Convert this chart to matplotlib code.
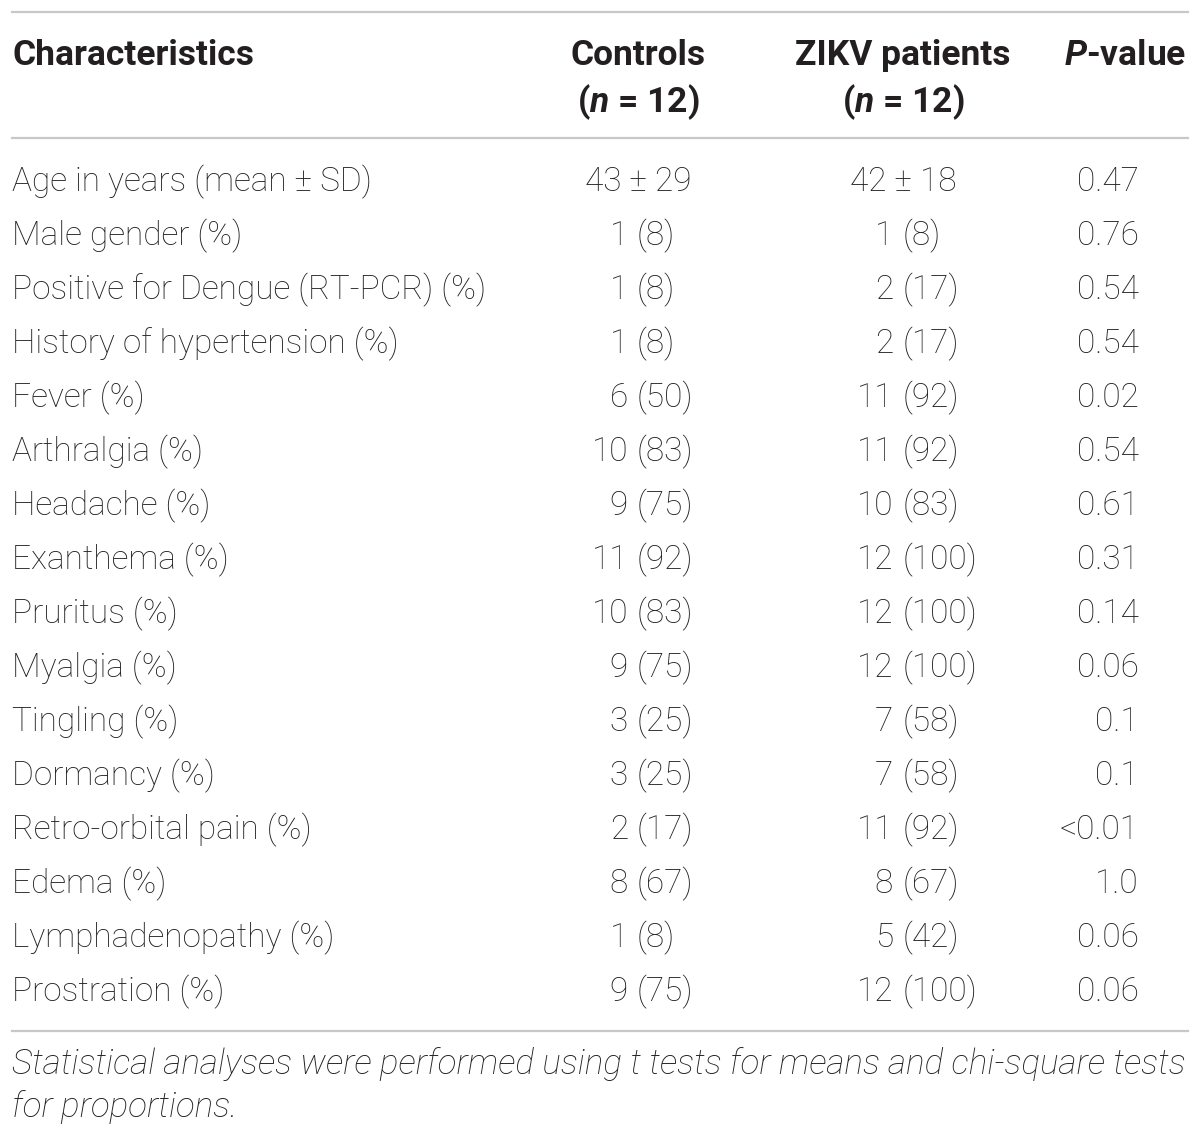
import matplotlib.pyplot as plt

# ---- TABLE DATA ----
characteristics = [
    "Age in years (mean \u00b1 SD)", "Male gender (%)",
    "Positive for Dengue (RT-PCR) (%)", "History of hypertension (%)",
    "Fever (%)", "Arthralgia (%)", "Headache (%)", "Exanthema (%)",
    "Pruritus (%)", "Myalgia (%)", "Tingling (%)", "Dormancy (%)",
    "Retro-orbital pain (%)", "Edema (%)", "Lymphadenopathy (%)",
    "Prostration (%)",
]
controls = ["43 \u00b1 29", "1 (8)", "1 (8)", "1 (8)", "6 (50)", "10 (83)",
            "9 (75)", "11 (92)", "10 (83)", "9 (75)", "3 (25)", "3 (25)",
            "2 (17)", "8 (67)", "1 (8)", "9 (75)"]
zikv = ["42 \u00b1 18", "1 (8)", "2 (17)", "2 (17)", "11 (92)", "11 (92)",
        "10 (83)", "12 (100)", "12 (100)", "12 (100)", "7 (58)", "7 (58)",
        "11 (92)", "8 (67)", "5 (42)", "12 (100)"]
p_values = ["0.47", "0.76", "0.54", "0.54", "0.02", "0.54", "0.61", "0.31",
            "0.14", "0.06", "0.1", "0.1", "<0.01", "1.0", "0.06", "0.06"]
footnote = ["Statistical analyses were performed using t tests for means and chi-square tests",
            "for proportions."]

W, H = 1200, 1136
FONT = "Roboto"
TXT = "#231f20"
LINE = "#c8c8c8"
FS = 24        # body text
FS_HEAD = 25.5  # bold header
FS_NOTE = 25.2  # italic footnote

plt.rcParams["mathtext.fontset"] = "custom"
plt.rcParams["mathtext.it"] = FONT + ":italic:bold"
plt.rcParams["mathtext.rm"] = FONT + ":bold"

fig = plt.figure(figsize=(W / 100, H / 100), dpi=100)
fig.patch.set_facecolor("white")


def px(x, y):
    return x / W, 1 - y / H


def txt(x, y, s, ha="left", **kw):
    kw.setdefault("fontsize", FS)
    kw.setdefault("fontweight", "light")
    kw.setdefault("color", TXT)
    fig.text(*px(x, y), s, ha=ha, va="baseline", family=FONT, **kw)


def head(x, y, s, ha="left"):
    txt(x, y, s, ha=ha, fontweight="bold", fontsize=FS_HEAD)


def hline(y):
    fig.add_artist(plt.Line2D([12 / W, 1188 / W], [1 - y / H, 1 - y / H],
                              color=LINE, lw=1.6))


hline(12)
hline(138)
hline(1031)

# header
head(12, 65, "Characteristics")
head(638, 65, "Controls", ha="center")
head(638, 112, "($n$ = 12)", ha="center")
head(903, 65, "ZIKV patients", ha="center")
head(903, 112, "($n$ = 12)", ha="center")
head(1186, 65, "$P$-value", ha="right")

# body
for i, name in enumerate(characteristics):
    y = 191 + 54 * i
    txt(12, y, name)
    for val, num_right, paren_left, centre in (
            (controls[i], 628, 637, 638), (zikv[i], 893, 903, 903)):
        if "(" in val:
            num, rest = val.split(" ", 1)
            txt(num_right, y, num, ha="right")
            txt(paren_left, y, rest)
        else:
            txt(centre, y, val, ha="center")
    txt(1139, y, p_values[i], ha="right")

# footnote
txt(12, 1074, footnote[0], style="italic", fontsize=FS_NOTE)
txt(12, 1117, footnote[1], style="italic", fontsize=FS_NOTE)

fig.savefig("out.png", dpi=100, facecolor="white")
